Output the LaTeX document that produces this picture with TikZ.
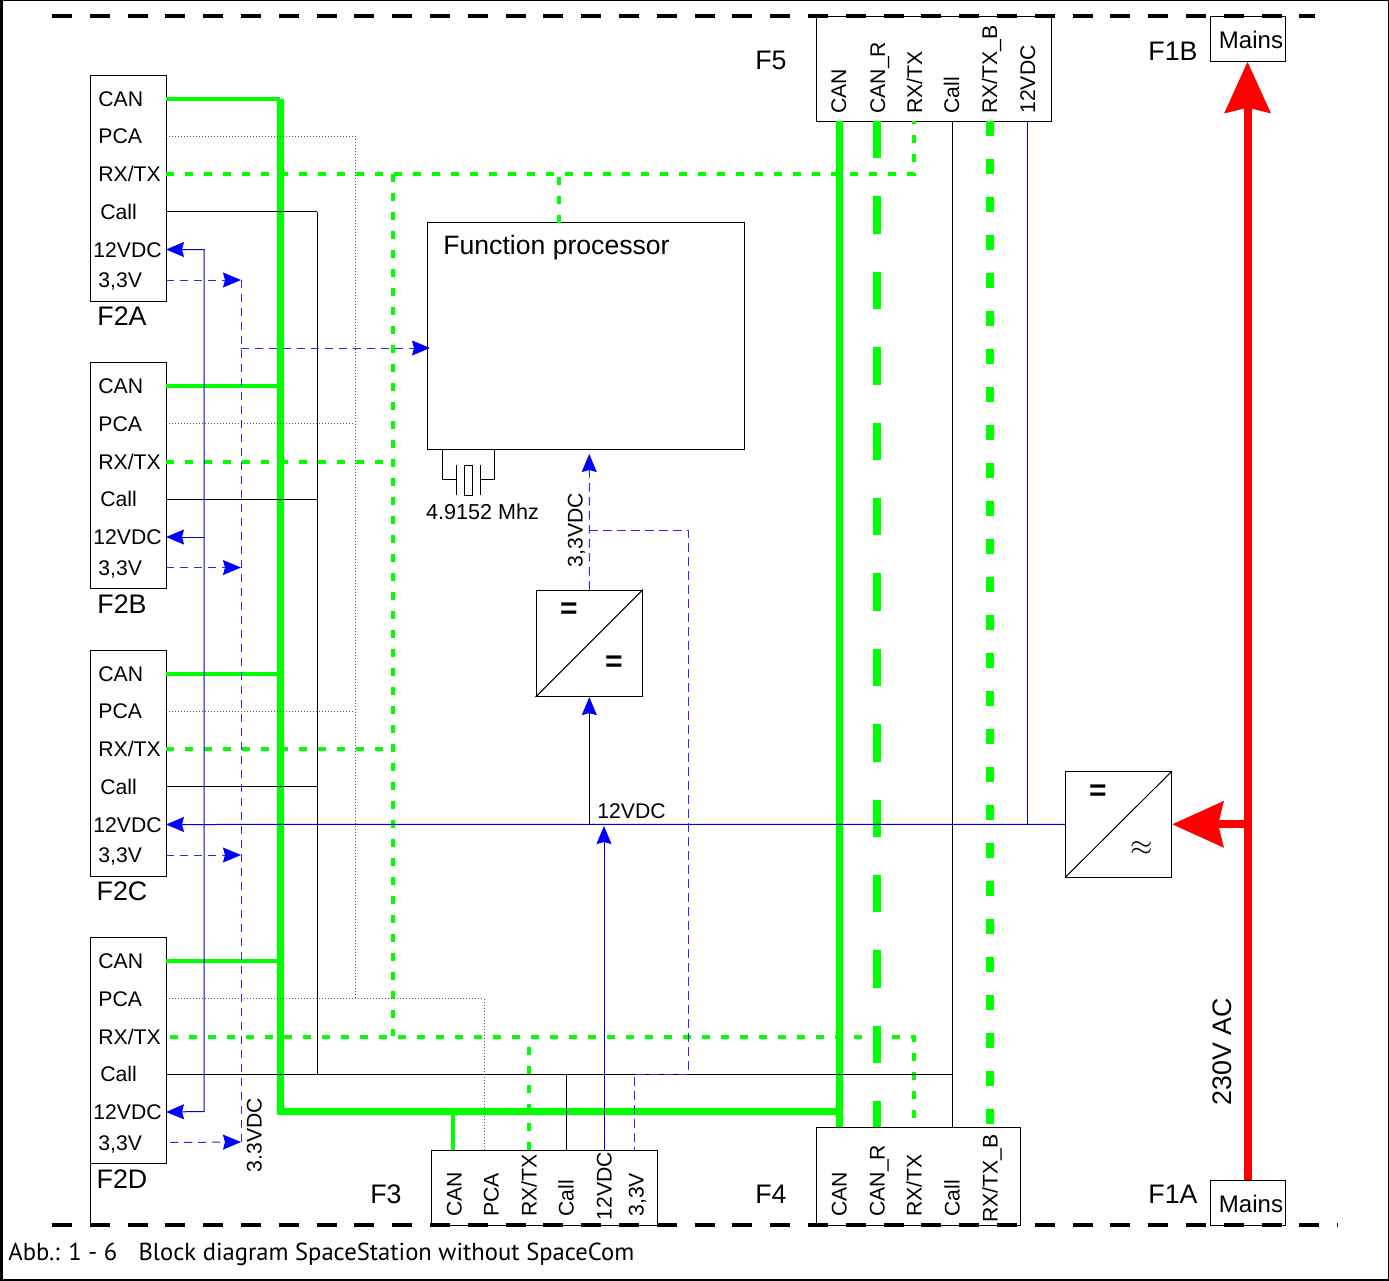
\documentclass[tikz,border=0pt]{standalone}
\usepackage{fontspec}
\setmainfont{Liberation Sans}
\newfontfamily\capfont{PT Sans}
\usepackage{xcolor}
\usetikzlibrary{arrows.meta,positioning,calc}
\tikzset{
  box/.style     ={draw,inner sep=0pt,anchor=north west,line width=0.55pt},
  pintext/.style ={inner sep=0pt,font=\fontsize{10.6}{13}\selectfont,text height=8pt,text depth=0pt},
  rpin/.style    ={pintext,rotate=90,anchor=west},
  lpin/.style    ={pintext,anchor=west},
  plug/.style    ={inner sep=0pt,font=\fontsize{13.4}{15}\selectfont},
  bus/.style     ={green,line width=3.5pt},
  can/.style     ={green,line width=2pt},
  canr/.style    ={green,line width=4pt,dash pattern=on 18.7pt off 19pt},
  rxb/.style     ={green,line width=3.6pt,dash pattern=on 7.6pt off 11.4pt},
  rxline/.style  ={green,line width=2pt,dash pattern=on 4pt off 5.5pt},
  callw/.style   ={black,line width=0.5pt},
  pcaw/.style    ={black!65,line width=0.5pt,densely dotted},
  vline/.style   ={blue!85!black,line width=0.5pt},
  lowv/.style    ={blue!85,line width=0.5pt,dash pattern=on 4.2pt off 2.8pt},
  mains/.style   ={red,line width=4pt},
  bigtip/.style  ={-{Stealth[length=25.5pt,width=22.5pt,inset=2.5pt]}},
  sign/.style    ={inner sep=0pt,font=\bfseries\fontsize{15}{15}\selectfont},
  border/.style  ={black,line width=2pt,dash pattern=on 10pt off 8.9pt},
  >={Stealth[length=9pt,width=7.5pt,inset=1pt,color=blue]},
}
\begin{document}
\begin{tikzpicture}[x=0.5pt,y=-0.5pt]
  \useasboundingbox (0,0) rectangle (1389,1281);
  \fill (0,0) rectangle (3,1281);
  \draw[line width=0.6pt] (0.5,0.5) rectangle (1388.5,1280);

  \foreach \n/\y in {A/75,B/362.5,C/650,D/937.5}{
    \node[box,minimum width=37.75pt,minimum height=113pt](f2\n) at (90,\y-0.5){};
    \foreach \w/\d/\x/\t in {can/23.5/98/CAN,pca/61/98/PCA,rx/99/98/RX\slash TX,call/136.5/100/Call,vdc/174.5/93/12VDC,low/205/98/{3,3V}}{
      \coordinate (\w\n) at (166,\y+\d);
      \node[lpin](t\w\n) at (\x,\y+\d-0.5){\t};
    }
    \node[plug](name\n) at (122,\y+241.5){F2\n};
  }
  \coordinate (leadD) at (90,1225);

  \node[box,minimum width=117.5pt,minimum height=52.5pt](f5) at (815.5,15.5){};
  \node[box,minimum width=102pt,minimum height=49pt](f4) at (815.5,1126.5){};
  \node[box,minimum width=113pt,minimum height=37.5pt](f3) at (430.5,1149.5){};
  \node[box,minimum width=37.5pt,minimum height=22.5pt](f1b) at (1209.5,15.5){};
  \node[box,minimum width=37.5pt,minimum height=22.5pt](f1a) at (1209.5,1179.5){};
  \node[box,minimum width=158.75pt,minimum height=113.5pt](fp) at (426.5,222){};
  \node[box,minimum width=53.25pt,minimum height=53.25pt](ddc) at (535.5,589.5){};
  \node[box,minimum width=53pt,minimum height=52.75pt](acdc) at (1065,771){};

  \foreach \n/\x in {can/839,canr/877,rx/914,call/952,rxb/990,vdc/1027}{\coordinate (f5\n) at (\x,121);}
  \foreach \n/\x in {can/839,canr/877,rx/914,call/952,rxb/990}{\coordinate (f4\n) at (\x,1127);}
  \foreach \n/\x in {can/453,pca/484,rx/529,call/566,vdc/604,low/634}{\coordinate (f3\n) at (\x,1150);}
  \coordinate (busb) at (280,1111);
  \coordinate (rxt) at (393,1036);
  \coordinate (callt) at (317,1074);
  \coordinate (pcat) at (355,998);
  \coordinate (vdct) at (204,1111.5);
  \coordinate (lowt) at (241,1142);
  \coordinate (fpin) at (559,222.5);
  \coordinate (fpw) at (430,348);
  \coordinate (fpout) at (589.25,454);
  \coordinate (tap) at (589.25,530);
  \coordinate (turn) at (688,1074);
  \coordinate (vdcin) at (604,826);

  \draw[bus](canA -| busb)--(busb)--(busb -| f4can);
  \draw[bus](f5can)--(f4can);
  \foreach \n in {A,B,C,D}{\draw[can](can\n)--(can\n -| busb);}
  \draw[can](f3can)--(f3can |- busb);
  \draw[canr](f5canr)--(f4canr);
  \draw[rxb](f5rxb)--(f4rxb);
  \draw[rxline](rxA)--(rxA -| f5rx)--(f5rx);
  \draw[rxline](rxA -| rxt)--(rxt);
  \draw[rxline](rxB)--(rxB -| rxt);
  \draw[rxline](rxC)--(rxC -| rxt);
  \draw[rxline,shorten <=2pt](rxD)--(rxD -| f4rx)--(f4rx);
  \draw[rxline](fpin)--(fpin |- rxA);
  \draw[rxline](f3rx)--(f3rx |- rxD);

  \foreach \n in {A,B,C}{\draw[callw](call\n)--(call\n -| callt);}
  \draw[callw](callA -| callt)--(callt);
  \draw[callw](callD)--(callD -| f4call);
  \draw[callw](f5call)--(f4call);
  \draw[callw](f3call)--(f3call |- callD);
  \draw[callw](f2D.south west)--(leadD);

  \foreach \n in {A,B,C}{\draw[pcaw](pca\n)--(pca\n -| pcat);}
  \draw[pcaw](pcaA -| pcat)--(pcat);
  \draw[pcaw](pcaD)--(pcaD -| f3pca)--(f3pca);

  \draw[vline,->](acdc.west)--(vdcC);
  \draw[vline](f5vdc)--(f5vdc |- acdc.west);
  \draw[vline,<->](vdcA)--(vdcA -| vdct)--(vdct)--(vdcD);
  \draw[vline,<-](vdcB)--(vdcB -| vdct);
  \draw[callw,->](ddc.south |- acdc.west)--(ddc.south);
  \draw[vline,->](f3vdc)--(vdcin);

  \foreach \n in {A,B,C}{\draw[lowv,->](low\n)--(low\n -| lowt);}
  \draw[lowv,shorten <=2pt,->](lowD)--(lowt);
  \draw[lowv](lowA -| lowt)--(lowt);
  \draw[lowv,->](fpw -| lowt)--(fpw);
  \draw[lowv,->](ddc.north)--(fpout);
  \draw[lowv](tap)--(tap -| turn)--(turn)--(turn -| f3low)--(f3low);

  \draw[mains,bigtip](f1a.north)--(f1b.south);
  \draw[mains,bigtip](f1a.north |- acdc.east)--(acdc.east);

  \draw[callw](ddc.south west)--(ddc.north east);
  \draw[callw](acdc.south west)--(acdc.north east);
  \node[sign](eq1) at (569,611){=};
  \node[sign](eq2) at (614,664){=};
  \node[sign](eq3) at (1098,793){=};
  \node[inner sep=0pt,font=\fontsize{14}{14}\selectfont](eq4) at (1142,849){$\approx$};

  \coordinate (xa) at (442,450); \coordinate (xb) at (494.5,450);
  \coordinate (xc) at (456.5,479.5); \coordinate (xd) at (480,479.5);
  \draw[callw](xa)--(xa |- xc)--(xc);
  \draw[callw](xb)--(xb |- xd)--(xd);
  \draw[callw](456.5,465)--(456.5,495);
  \draw[callw](480,465)--(480,495);
  \draw[callw](464,465) rectangle (472.5,495);
  \node[pintext,font=\fontsize{10.8}{13}\selectfont](xtal) at (482.5,511){4.9152 Mhz};

  \node[inner sep=0pt,anchor=west,font=\fontsize{13.3}{15}\selectfont](fptext) at (443,248){Function processor};
  \node[pintext](v12) at (631.5,810){12VDC};
  \node[rpin,anchor=center](v33a) at (574.5,530){3,3VDC};
  \node[rpin,anchor=center](v33b) at (253.5,1135){3.3VDC};
  \node[plug,rotate=90](vac) at (1222,1052){230V AC};

  \foreach \n/\x/\t in {can/838/CAN,canr/877/CAN\_R,rx/914/RX\slash TX,call/951/Call,rxb/989/RX\slash TX\_B,vdc/1027/12VDC}{\node[rpin](t5\n) at (\x,114){\t};}
  \foreach \n/\x/\y/\t in {can/838.5/1217/CAN,canr/876.5/1217/CAN\_R,rx/913.5/1217/RX\slash TX,call/951.5/1217/Call,rxb/989.5/1223/RX\slash TX\_B}{\node[rpin](t4\n) at (\x,\y){\t};}
  \foreach \n/\x/\y/\t in {can/453.5/1217/CAN,pca/490.5/1217/PCA,rx/528.5/1217/RX\slash TX,call/565.5/1217/Call,vdc/603.5/1220.5/12VDC,low/635.5/1217/{3,3V}}{\node[rpin](t3\n) at (\x,\y){\t};}
  \node[plug](lf5) at (771,60){F5};
  \node[plug](lf4) at (771,1194){F4};
  \node[plug](lf3) at (386,1194){F3};
  \node[plug](lf1b) at (1173,51){F1B};
  \node[plug](lf1a) at (1173,1194){F1A};
  \node[inner sep=0pt,font=\fontsize{12}{13}\selectfont](m1) at (1251,40){Mains};
  \node[inner sep=0pt,font=\fontsize{12}{13}\selectfont](m2) at (1251,1204){Mains};
  \node[inner sep=0pt,anchor=west,font=\capfont\fontsize{12.3}{14}\selectfont](cap) at (8,1254){Abb.: 1 - 6\hspace{0.6em} Block diagram SpaceStation without SpaceCom};

  \coordinate (tl) at (52,16); \coordinate (tr) at (1315,16);
  \coordinate (bl) at (52,1225); \coordinate (br) at (1338,1225);
  \draw[border](tl)--(tr);
  \draw[border](bl)--(br);
\end{tikzpicture}
\end{document}
